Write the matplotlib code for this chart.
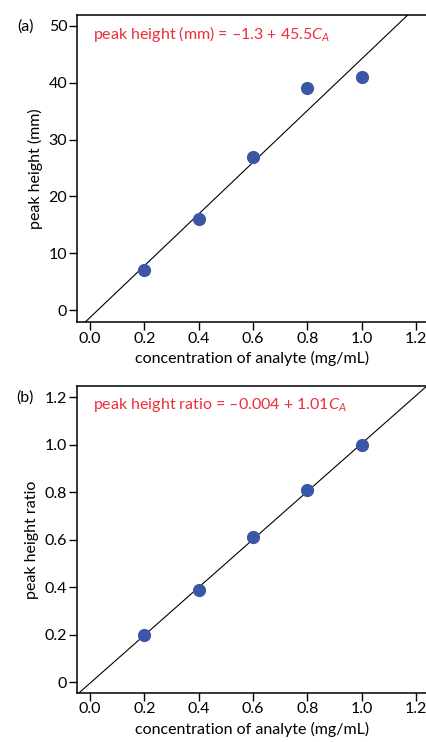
import numpy as np
import matplotlib
matplotlib.use("Agg")
import matplotlib.pyplot as plt

plt.rcParams['font.family'] = ['Lato', 'DejaVu Sans']
plt.rcParams['mathtext.fontset'] = 'custom'
plt.rcParams['mathtext.rm'] = 'Lato'
plt.rcParams['mathtext.it'] = 'Lato:italic'

# calibration data
conc = [0.2, 0.4, 0.6, 0.8, 1.0]
peak_height = [7, 16, 27, 39, 41]
peak_ratio = [0.20, 0.39, 0.61, 0.81, 1.00]

# fitted lines (intercept, slope)
fit_a = (-1.3, 45.5)
fit_b = (-0.004, 1.01)

x_ticks = [0.0, 0.2, 0.4, 0.6, 0.8, 1.0, 1.2]
x_tick_labels = ['0.0', '0.2', '0.4', '0.6', '0.8', '1.0', '1.2']
ya_ticks = [0, 10, 20, 30, 40, 50]
ya_tick_labels = ['0', '10', '20', '30', '40', '50']
yb_ticks = [0, 0.2, 0.4, 0.6, 0.8, 1.0, 1.2]
yb_tick_labels = ['0', '0.2', '0.4', '0.6', '0.8', '1.0', '1.2']

RED = '#ee2e3a'
BLUE = '#3b56a6'
FS = 11.5

fig = plt.figure(figsize=(4.27, 7.42), dpi=100)
ax_a = fig.add_axes([0.1803, 0.566, 0.8197, 0.4138])
ax_b = fig.add_axes([0.1803, 0.0665, 0.8197, 0.4133])

panels = [
    (ax_a, peak_height, fit_a, (-2.1, 51.9), ya_ticks, ya_tick_labels,
     'peak height (mm)', '(a)', 'peak height (mm) = \u20131.3 + 45.5$C_A$'),
    (ax_b, peak_ratio, fit_b, (-0.044, 1.248), yb_ticks, yb_tick_labels,
     'peak height ratio', '(b)', 'peak height ratio = \u20130.004 + 1.01$C_A$'),
]

xlim = (-0.048, 1.24)
for ax, yvals, fit, ylim, yt, ytl, ylabel, tag, eq in panels:
    xx = np.array(xlim)
    ax.plot(xx, fit[0] + fit[1] * xx, color='black', lw=0.8, zorder=2)
    ax.plot(conc, yvals, 'o', color=BLUE, markersize=9.5, mec='none', zorder=3)
    ax.set_xlim(*xlim)
    ax.set_ylim(*ylim)
    ax.set_xticks(x_ticks)
    ax.set_xticklabels(x_tick_labels)
    ax.set_yticks(yt)
    ax.set_yticklabels(ytl)
    ax.tick_params(direction='out', length=5.5, width=1, labelsize=FS, pad=1.5)
    for s in ['left', 'bottom', 'top']:
        ax.spines[s].set_linewidth(1.1)
    ax.spines['right'].set_visible(False)
    ax.set_xlabel('concentration of analyte (mg/mL)', fontsize=FS, labelpad=4)
    ax.set_ylabel(ylabel, fontsize=FS, labelpad=4)
    ax.text(-0.148, 0.963, tag, transform=ax.transAxes, fontsize=FS,
            ha='center', va='center')
    ax.text(0.045, 0.937, eq, transform=ax.transAxes, fontsize=FS,
            color=RED, ha='left', va='center')

fig.savefig('out.png', dpi=100)
